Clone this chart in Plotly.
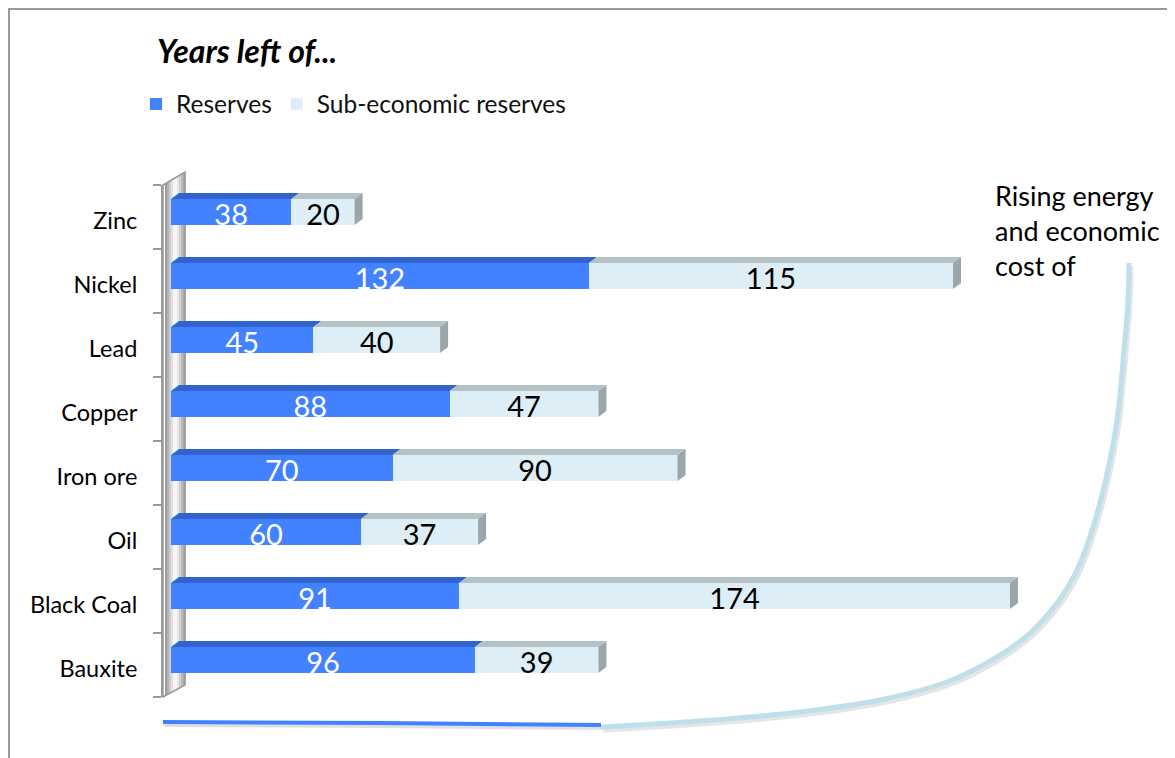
import plotly.graph_objects as go

# ---------------- data ----------------
categories = ["Zinc", "Nickel", "Lead", "Copper", "Iron ore", "Oil", "Black Coal", "Bauxite"]
reserves = [38, 132, 45, 88, 70, 60, 91, 96]
sub_economic = [20, 115, 40, 47, 90, 37, 174, 39]
series_names = ["Reserves", "Sub-economic reserves"]
title_text = "Years left of..."
note_text = "Rising energy<br>and economic<br>cost of"

# ---------------- layout geometry (reference pixel coords, page has 8px body margin) ----------------
OFF = 8
FIG_W, FIG_H = 1175 - OFF, 758 - OFF
PLOT_LEFT, PLOT_RIGHT, PLOT_TOP, PLOT_BOTTOM = 163, 1100, 185, 697
ML = PLOT_LEFT - OFF
MT = PLOT_TOP - OFF
MR = FIG_W - (PLOT_RIGHT - OFF)
MB = FIG_H - (PLOT_BOTTOM - OFF)
PLOT_W = PLOT_RIGHT - PLOT_LEFT
PLOT_H = PLOT_BOTTOM - PLOT_TOP
PX_PER_UNIT = 3.166
X0 = -8 / PX_PER_UNIT
X1 = X0 + PLOT_W / PX_PER_UNIT
N = len(categories)
CAT_PX = PLOT_H / N
positions = list(range(N))
BAR_W = 26 / CAT_PX
BAR_OFF = -BAR_W / 2 - 5 / CAT_PX
DX = 8 / PX_PER_UNIT      # 3-D depth, horizontal (data units)
DY = 6 / CAT_PX           # 3-D depth, vertical (category units)
LABEL_DROP = 6 / CAT_PX   # value labels sit a little low in the bars
TICK_DROP = 4 / CAT_PX

FONT = "Lato, 'Open Sans', sans-serif"
C_RES = "#4281FF"
C_RES_TOP = "#2F64CC"
C_SUB = "#DDEEF6"
C_SUB_TOP = "#B4C1C5"
C_SUB_SIDE = "#9AA6A9"


def px(xp):
    return (xp - PLOT_LEFT) / PLOT_W


def py(yp):
    return (PLOT_BOTTOM - yp) / PLOT_H


fig = go.Figure()
fig.add_trace(go.Bar(
    y=positions, x=reserves, name=series_names[0], orientation="h",
    width=BAR_W, offset=BAR_OFF, marker=dict(color=C_RES, line=dict(width=0)),
    hoverinfo="x+y",
))
fig.add_trace(go.Bar(
    y=positions, x=sub_economic, name=series_names[1], orientation="h",
    width=BAR_W, offset=BAR_OFF, marker=dict(color=C_SUB, line=dict(width=0)),
    hoverinfo="x+y",
))

# value labels (centered in each segment)
label_y = [p + BAR_OFF + BAR_W / 2 + LABEL_DROP for p in positions]
fig.add_trace(go.Scatter(
    x=[v / 2 for v in reserves], y=label_y, mode="text",
    text=[str(v) for v in reserves], textposition="middle center",
    textfont=dict(family=FONT, size=29, color="white"),
    showlegend=False, hoverinfo="skip", cliponaxis=False,
))
fig.add_trace(go.Scatter(
    x=[r + s / 2 for r, s in zip(reserves, sub_economic)], y=label_y, mode="text",
    text=[str(v) for v in sub_economic], textposition="middle center",
    textfont=dict(family=FONT, size=29, color="black"),
    showlegend=False, hoverinfo="skip", cliponaxis=False,
))

shapes = []

# wall (3-D back plane at left)
wall_left, wall_right = 163, 185
top_l, top_r = 185, 172
bot_l, bot_r = 697, 685
wall_cols = ["#9c9c9c", "#b3b3b3", "#cbcbcb", "#e2e2e2", "#f4f4f4",
             "#f7f7f7", "#e6e6e6", "#d0d0d0", "#bababa", "#a5a5a5"]
n_s = len(wall_cols)
for k, col in enumerate(wall_cols):
    xa = wall_left + 2 + (wall_right - wall_left - 2) * k / n_s
    xb = wall_left + 2 + (wall_right - wall_left - 2) * (k + 1) / n_s + 0.5
    ta = top_l + (top_r - top_l) * (xa - wall_left) / (wall_right - wall_left)
    tb = top_l + (top_r - top_l) * (xb - wall_left) / (wall_right - wall_left)
    ba = bot_l + (bot_r - bot_l) * (xa - wall_left) / (wall_right - wall_left)
    bb = bot_l + (bot_r - bot_l) * (xb - wall_left) / (wall_right - wall_left)
    shapes.append(dict(type="path", xref="paper", yref="paper", layer="below",
                       path=f"M{px(xa)},{py(ta)} L{px(xb)},{py(tb)} L{px(xb)},{py(bb)} L{px(xa)},{py(ba)} Z",
                       fillcolor=col, line=dict(width=0)))
shapes.append(dict(type="path", xref="paper", yref="paper", layer="below",
                   path=f"M{px(wall_left)},{py(top_l)} L{px(wall_right)},{py(top_r)} L{px(wall_right)},{py(bot_r)} L{px(wall_left)},{py(bot_l)} Z",
                   fillcolor="rgba(0,0,0,0)", line=dict(color="#9a9a9a", width=1.5)))

# 3-D faces of bars, computed from the data
for i in positions:
    v1 = reserves[i]
    tot = reserves[i] + sub_economic[i]
    yt = i + BAR_OFF
    yb = yt + BAR_W
    shapes.append(dict(type="path", xref="x", yref="y", layer="above",
                       path=f"M0,{yt} L{v1},{yt} L{v1 + DX},{yt - DY} L{DX},{yt - DY} Z",
                       fillcolor=C_RES_TOP, line=dict(width=0)))
    shapes.append(dict(type="path", xref="x", yref="y", layer="above",
                       path=f"M{v1},{yt} L{tot},{yt} L{tot + DX},{yt - DY} L{v1 + DX},{yt - DY} Z",
                       fillcolor=C_SUB_TOP, line=dict(width=0)))
    shapes.append(dict(type="path", xref="x", yref="y", layer="above",
                       path=f"M{tot},{yt} L{tot + DX},{yt - DY} L{tot + DX},{yb - DY} L{tot},{yb} Z",
                       fillcolor=C_SUB_SIDE, line=dict(width=0)))


# decorative curve (smooth Catmull-Rom through guide points, converted to cubic Beziers)
def smooth_path(pts, dxo=0, dyo=0):
    p = [(a + dxo, b + dyo) for a, b in pts]
    out = [f"M{px(p[0][0])},{py(p[0][1])}"]
    for i in range(len(p) - 1):
        p0 = p[i - 1] if i > 0 else p[i]
        p1, p2 = p[i], p[i + 1]
        p3 = p[i + 2] if i + 2 < len(p) else p[i + 1]
        c1 = (p1[0] + (p2[0] - p0[0]) / 6, p1[1] + (p2[1] - p0[1]) / 6)
        c2 = (p2[0] - (p3[0] - p1[0]) / 6, p2[1] - (p3[1] - p1[1]) / 6)
        out.append(f"C{px(c1[0])},{py(c1[1])} {px(c2[0])},{py(c2[1])} {px(p2[0])},{py(p2[1])}")
    return " ".join(out)


def poly_path(pts, dxo=0, dyo=0):
    s = [f"M{px(pts[0][0] + dxo)},{py(pts[0][1] + dyo)}"]
    for a, b in pts[1:]:
        s.append(f"L{px(a + dxo)},{py(b + dyo)}")
    return " ".join(s)


curve_pts = [(601, 727), (700, 721), (800, 712), (880, 700), (947, 682), (997, 657),
             (1030, 633), (1057, 603), (1077, 570), (1093, 527), (1106, 478),
             (1117, 420), (1124, 350), (1128, 300), (1129, 263)]
line_pts = [(163, 722), (380, 723), (601, 725)]

shapes.append(dict(type="path", xref="paper", yref="paper", path=smooth_path(curve_pts, 2, 3),
                   line=dict(color="rgba(0,0,0,0.10)", width=5)))
shapes.append(dict(type="path", xref="paper", yref="paper", path=poly_path(line_pts, 1, 3),
                   line=dict(color="rgba(0,0,0,0.12)", width=4)))
shapes.append(dict(type="path", xref="paper", yref="paper", path=smooth_path(curve_pts),
                   line=dict(color="#BFE0EA", width=5)))
shapes.append(dict(type="path", xref="paper", yref="paper", path=poly_path(line_pts),
                   line=dict(color=C_RES, width=4)))

# slide frame lines
shapes.append(dict(type="line", xref="paper", yref="paper", x0=px(4), x1=px(1175),
                   y0=py(9), y1=py(9), line=dict(color="#9a9a9a", width=2)))
shapes.append(dict(type="line", xref="paper", yref="paper", x0=px(9), x1=px(9),
                   y0=py(9), y1=py(758), line=dict(color="#9a9a9a", width=2)))

fig.update_layout(
    width=FIG_W, height=FIG_H,
    margin=dict(l=ML, r=MR, t=MT, b=MB),
    paper_bgcolor="white", plot_bgcolor="rgba(0,0,0,0)",
    barmode="stack", bargap=0,
    font=dict(family=FONT, color="black"),
    title=dict(text=f"<b><i>{title_text}</i></b>", xref="container", yref="container",
               x=(157 - OFF) / FIG_W, xanchor="left", y=1 - (52 - OFF) / FIG_H, yanchor="middle",
               font=dict(family=FONT, size=32, color="black")),
    legend=dict(orientation="h", xref="container", yref="container",
                x=(136 - OFF) / FIG_W, xanchor="left", y=1 - (104 - OFF) / FIG_H, yanchor="middle",
                traceorder="normal", font=dict(family=FONT, size=24.5, color="#111"),
                bgcolor="rgba(0,0,0,0)", itemclick=False),
    xaxis=dict(range=[X0, X1], visible=False, fixedrange=True),
    yaxis=dict(range=[N - 0.5, -0.5], tickmode="array",
               tickvals=[p + TICK_DROP for p in positions],
               ticktext=categories, ticks="outside", ticklen=8, tickcolor="rgba(0,0,0,0)",
               ticklabelstandoff=11,
               minor=dict(tickmode="array", tickvals=[p - 0.5 for p in positions] + [N - 0.5],
                          ticks="outside", ticklen=8, tickcolor="#9a9a9a", tickwidth=1.5,
                          showgrid=False),
               showline=True, linecolor="#9a9a9a", linewidth=2, showgrid=False,
               zeroline=False, tickfont=dict(family=FONT, size=23.5, color="black"),
               fixedrange=True),
    shapes=shapes,
    annotations=[dict(text=note_text, xref="paper", yref="paper", x=px(993), y=py(177),
                      xanchor="left", yanchor="top", align="left", showarrow=False,
                      font=dict(family=FONT, size=27, color="black"))],
)

fig.write_html("out.html")
